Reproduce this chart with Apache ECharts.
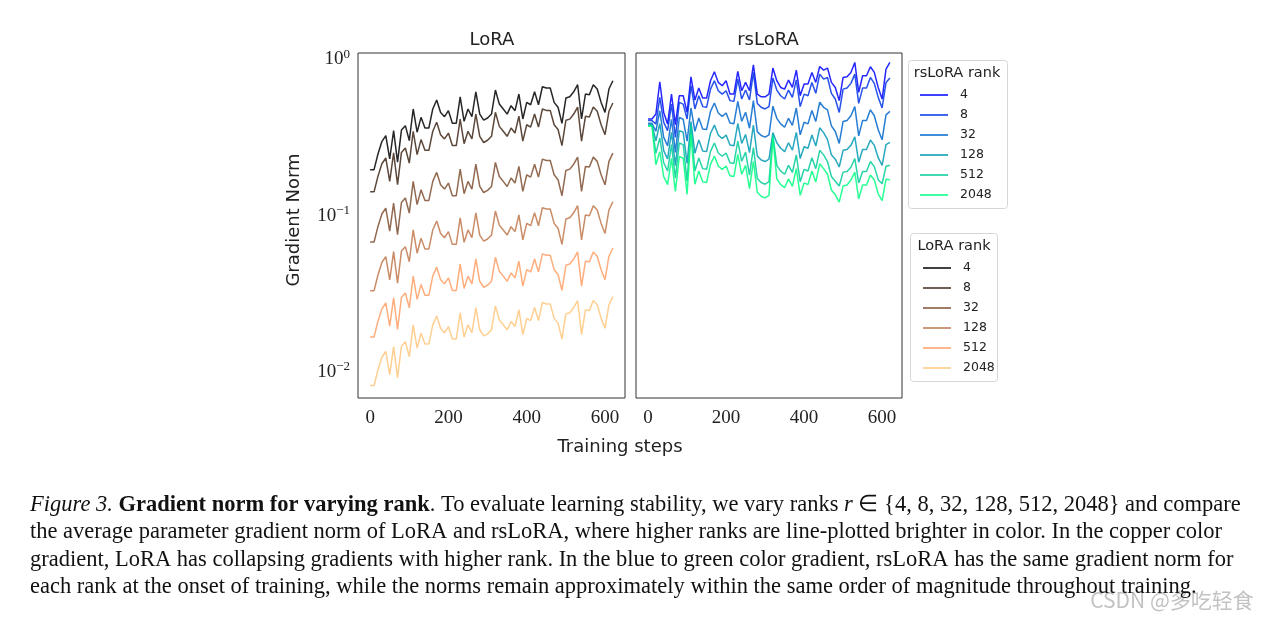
<!DOCTYPE html>
<html lang="en">
<head>
    <meta charset="utf-8">
    <title>Gradient norm for varying rank</title>
    <script src="https://cdn.jsdelivr.net/npm/echarts@6/dist/echarts.min.js"></script>
    <style>
        body { margin: 0; background: #fff; }
        #main { width: 1272px; height: 620px; }
    </style>
</head>
<body>
    <div id="main"></div>
    <script type="text/javascript">
    // training steps (one point every 10 steps)
    var steps = [0,10,20,30,40,50,60,70,80,90,100,110,120,130,140,150,160,170,180,190,200,210,220,230,240,250,260,270,280,290,300,
        310,320,330,340,350,360,370,380,390,400,410,420,430,440,450,460,470,480,490,500,510,520,530,540,550,560,570,580,590,600,610,620];
    var ranks = ['4', '8', '32', '128', '512', '2048'];

    // LoRA gradient norm
    var lora4 = [0.197,0.197,0.248,0.298,0.325,0.231,0.350,0.220,0.353,0.377,0.302,0.482,0.342,0.426,0.364,0.364,0.482,0.550,0.458,0.430,0.470,
        0.390,0.390,0.577,0.402,0.482,0.430,0.621,0.447,0.409,0.422,0.447,0.637,0.518,0.482,0.447,0.506,0.470,0.601,0.416,0.531,
        0.513,0.621,0.513,0.669,0.656,0.656,0.531,0.494,0.390,0.566,0.577,0.621,0.689,0.416,0.601,0.595,0.689,0.647,0.531,0.458,0.647,0.731];
    var lora8 = [0.142,0.142,0.179,0.215,0.234,0.166,0.252,0.158,0.254,0.271,0.217,0.347,0.246,0.307,0.262,0.262,0.347,0.396,0.330,0.310,0.338,
        0.281,0.281,0.415,0.289,0.347,0.310,0.447,0.322,0.294,0.304,0.322,0.459,0.373,0.347,0.322,0.364,0.338,0.433,0.300,0.382,
        0.369,0.447,0.369,0.482,0.472,0.472,0.382,0.356,0.281,0.408,0.415,0.447,0.496,0.300,0.433,0.428,0.496,0.466,0.382,0.330,0.466,0.526];
    var lora32 = [0.0678,0.0678,0.0853,0.1025,0.1118,0.0795,0.1204,0.0757,0.1214,0.1297,0.1039,0.1658,0.1176,0.1465,0.1252,0.1252,0.1658,0.1892,0.1576,0.1479,0.1617,
        0.1342,0.1342,0.1985,0.1383,0.1658,0.1479,0.2136,0.1538,0.1407,0.1452,0.1538,0.2191,0.1782,0.1658,0.1538,0.1741,0.1617,0.2067,0.1431,0.1827,
        0.1765,0.2136,0.1765,0.2301,0.2257,0.2257,0.1827,0.1699,0.1342,0.1947,0.1985,0.2136,0.2370,0.1431,0.2067,0.2047,0.2370,0.2226,0.1827,0.1576,0.2226,0.2515];
    var lora128 = [0.0331,0.0331,0.0417,0.0501,0.0546,0.0388,0.0588,0.0370,0.0593,0.0633,0.0507,0.0810,0.0575,0.0716,0.0612,0.0612,0.0810,0.0924,0.0769,0.0722,0.0790,
        0.0655,0.0655,0.0969,0.0675,0.0810,0.0722,0.1043,0.0751,0.0687,0.0709,0.0751,0.1070,0.0870,0.0810,0.0751,0.0850,0.0790,0.1010,0.0699,0.0892,
        0.0862,0.1043,0.0862,0.1124,0.1102,0.1102,0.0892,0.0830,0.0655,0.0951,0.0969,0.1043,0.1158,0.0699,0.1010,0.1000,0.1158,0.1087,0.0892,0.0769,0.1087,0.1228];
    var lora512 = [0.0167,0.0167,0.0211,0.0253,0.0276,0.0196,0.0298,0.0187,0.0300,0.0320,0.0257,0.0410,0.0291,0.0362,0.0309,0.0309,0.0410,0.0468,0.0389,0.0366,0.0400,
        0.0332,0.0332,0.0490,0.0342,0.0410,0.0366,0.0528,0.0380,0.0348,0.0359,0.0380,0.0541,0.0440,0.0410,0.0380,0.0430,0.0400,0.0511,0.0354,0.0451,
        0.0436,0.0528,0.0436,0.0569,0.0558,0.0558,0.0451,0.0420,0.0332,0.0481,0.0490,0.0528,0.0586,0.0354,0.0511,0.0506,0.0586,0.0550,0.0451,0.0389,0.0550,0.0621];
    var lora2048 = [0.00818,0.00818,0.0103,0.0124,0.0135,0.00959,0.0145,0.00913,0.0146,0.0156,0.0125,0.0200,0.0142,0.0177,0.0151,0.0151,0.0200,0.0228,0.0190,0.0178,0.0195,
        0.0162,0.0162,0.0239,0.0167,0.0200,0.0178,0.0258,0.0186,0.0170,0.0175,0.0186,0.0264,0.0215,0.0200,0.0186,0.0210,0.0195,0.0249,0.0173,0.0220,
        0.0213,0.0258,0.0213,0.0278,0.0272,0.0272,0.0220,0.0205,0.0162,0.0235,0.0239,0.0258,0.0286,0.0173,0.0249,0.0247,0.0286,0.0269,0.0220,0.0190,0.0269,0.0303];

    // rsLoRA gradient norm
    var rs4 = [0.416,0.416,0.447,0.720,0.458,0.386,0.600,0.383,0.586,0.586,0.458,0.775,0.550,0.656,0.566,0.566,0.731,0.834,0.713,0.679,0.731,
        0.600,0.600,0.838,0.631,0.713,0.631,0.925,0.600,0.577,0.577,0.600,0.881,0.731,0.662,0.646,0.738,0.662,0.855,0.586,0.696,
        0.696,0.826,0.713,0.902,0.855,0.881,0.713,0.662,0.545,0.767,0.775,0.826,0.957,0.615,0.787,0.787,0.898,0.826,0.662,0.558,0.867,0.957];
    var rs8 = [0.406,0.406,0.386,0.572,0.396,0.350,0.518,0.317,0.531,0.518,0.416,0.679,0.482,0.586,0.499,0.494,0.646,0.731,0.631,0.600,0.631,
        0.545,0.539,0.749,0.558,0.637,0.550,0.826,0.523,0.494,0.482,0.499,0.760,0.637,0.586,0.558,0.637,0.572,0.741,0.499,0.600,
        0.586,0.713,0.607,0.806,0.749,0.767,0.607,0.558,0.458,0.646,0.656,0.703,0.806,0.523,0.656,0.656,0.767,0.703,0.572,0.489,0.713,0.760];
    var rs32 = [0.390,0.390,0.347,0.469,0.317,0.280,0.414,0.254,0.425,0.414,0.300,0.489,0.347,0.422,0.359,0.356,0.465,0.526,0.454,0.432,0.454,
        0.392,0.388,0.539,0.402,0.459,0.363,0.545,0.345,0.326,0.318,0.329,0.502,0.420,0.387,0.368,0.420,0.378,0.489,0.329,0.396,
        0.387,0.471,0.401,0.532,0.494,0.476,0.376,0.346,0.290,0.401,0.407,0.436,0.500,0.324,0.407,0.407,0.476,0.436,0.355,0.306,0.442,0.465];
    var rs128 = [0.382,0.382,0.301,0.389,0.261,0.231,0.342,0.209,0.350,0.342,0.216,0.400,0.251,0.305,0.259,0.257,0.336,0.380,0.328,0.312,0.328,
        0.283,0.280,0.389,0.290,0.331,0.253,0.380,0.241,0.227,0.222,0.230,0.340,0.293,0.270,0.257,0.293,0.263,0.341,0.232,0.276,
        0.270,0.328,0.279,0.365,0.340,0.307,0.245,0.230,0.205,0.262,0.265,0.282,0.320,0.220,0.265,0.265,0.305,0.282,0.235,0.210,0.285,0.295];
    var rs512 = [0.378,0.378,0.251,0.315,0.218,0.193,0.285,0.174,0.292,0.285,0.166,0.380,0.193,0.234,0.200,0.198,0.258,0.292,0.252,0.240,0.252,
        0.218,0.216,0.300,0.223,0.255,0.182,0.273,0.173,0.163,0.159,0.165,0.330,0.210,0.193,0.184,0.210,0.189,0.245,0.165,0.198,
        0.193,0.235,0.200,0.262,0.245,0.222,0.178,0.166,0.155,0.190,0.192,0.204,0.232,0.162,0.192,0.192,0.222,0.206,0.170,0.160,0.207,0.210];
    var rs2048 = [0.374,0.374,0.212,0.257,0.178,0.158,0.233,0.143,0.239,0.233,0.137,0.330,0.159,0.193,0.165,0.163,0.213,0.241,0.208,0.198,0.208,
        0.180,0.178,0.247,0.184,0.210,0.149,0.223,0.141,0.133,0.130,0.135,0.317,0.172,0.158,0.151,0.172,0.154,0.200,0.135,0.162,
        0.158,0.193,0.164,0.215,0.200,0.184,0.146,0.136,0.122,0.155,0.157,0.169,0.190,0.128,0.157,0.157,0.182,0.169,0.138,0.125,0.171,0.170];

    var loraData = [lora4, lora8, lora32, lora128, lora512, lora2048];
    var rsData = [rs4, rs8, rs32, rs128, rs512, rs2048];
    // copper and winter colormaps
    var copper = ['#000000', '#402819', '#7f5033', '#bf784c', '#ff9f65', '#ffc77f'];
    var winter = ['#0000ff', '#0033e6', '#0066cc', '#0099b3', '#00cc99', '#00ff80'];

    var sans = 'DejaVu Sans';
    var serif = 'Liberation Serif';

    function pairs(vals) {
        return steps.map(function (s, i) { return [s, vals[i]]; });
    }

    var series = [];
    ranks.forEach(function (r, k) {
        series.push({
            name: 'rs ' + r, type: 'line', xAxisIndex: 1, yAxisIndex: 1,
            data: pairs(rsData[k]), symbol: 'none', color: winter[k],
            lineStyle: { width: 1.5, opacity: 0.85 }, animation: false
        });
    });
    ranks.forEach(function (r, k) {
        series.push({
            name: 'lora ' + r, type: 'line', xAxisIndex: 0, yAxisIndex: 0,
            data: pairs(loraData[k]), symbol: 'none', color: copper[k],
            lineStyle: { width: 1.5, opacity: 0.85 }, animation: false
        });
    });

    var supMap = { '0': '0', '-1': '\u22121', '-2': '\u22122' };
    function logLabel(v) {
        var e = Math.log10(v);
        if (Math.abs(e - Math.round(e)) > 1e-6) return '';
        return '{b|10}{s|' + supMap[String(Math.round(e))] + '}';
    }

    function xAxis(i) {
        return {
            gridIndex: i, type: 'value', min: -31, max: 651,
            splitLine: { show: false }, axisLine: { show: false }, axisTick: { show: false },
            axisLabel: { customValues: [0, 200, 400, 600], fontFamily: serif, fontSize: 19, color: '#222', margin: 11 }
        };
    }
    function yAxis(i) {
        return {
            gridIndex: i, type: 'log', logBase: 10, min: 0.0068, max: 1.1,
            splitLine: { show: false }, axisLine: { show: false }, axisTick: { show: false },
            axisLabel: {
                show: i === 0, showMinLabel: false, showMaxLabel: false, margin: 8,
                formatter: logLabel,
                rich: {
                    b: { fontFamily: serif, fontSize: 19, color: '#222' },
                    s: { fontFamily: serif, fontSize: 13, color: '#222', padding: [0, 0, 10, 0] }
                }
            }
        };
    }

    function legendBlock(names, left, top) {
        return {
            data: names, orient: 'vertical', left: left, top: top,
            icon: 'rect', itemWidth: 28, itemHeight: 1.5, itemGap: 6, selectedMode: false,
            formatter: function (n) { return n.split(' ')[1]; },
            textStyle: { fontFamily: sans, fontSize: 12.5, color: '#222', lineHeight: 14, padding: [0, 0, 0, 7] }
        };
    }

    var caption = [
        '{i|Figure 3.} {b|Gradient norm for varying rank}. To evaluate learning stability, we vary ranks {i|r} \u2208 {4, 8, 32, 128, 512, 2048} and compare',
        'the average parameter gradient norm of LoRA and rsLoRA, where higher ranks are line-plotted brighter in color. In the copper color',
        'gradient, LoRA has collapsing gradients with higher rank. In the blue to green color gradient, rsLoRA has the same gradient norm for',
        'each rank at the onset of training, while the norms remain approximately within the same order of magnitude throughout training.'
    ];

    function txt(x, y, text, size, family, extra) {
        var o = { type: 'text', x: x, y: y, silent: true,
            style: { text: text, fontSize: size, fontFamily: family, fill: '#222', align: 'center', verticalAlign: 'middle' } };
        if (extra) for (var k in extra) o.style[k] = extra[k];
        return o;
    }

    var graphics = [
        txt(492, 40, 'LoRA', 18, sans),
        txt(768, 40, 'rsLoRA', 18, sans),
        txt(620, 447, 'Training steps', 18, sans),
        { type: 'text', x: 294, y: 220, rotation: Math.PI / 2, silent: true,
          style: { text: 'Gradient Norm', fontSize: 18, fontFamily: sans, fill: '#222', align: 'center', verticalAlign: 'middle' } },
        { type: 'rect', silent: true, shape: { x: 908.5, y: 60.5, width: 99, height: 148, r: 3 },
          style: { fill: '#fff', stroke: '#d6d6d6', lineWidth: 1 }, z: -1 },
        { type: 'rect', silent: true, shape: { x: 910.5, y: 233.5, width: 87, height: 148, r: 3 },
          style: { fill: '#fff', stroke: '#d6d6d6', lineWidth: 1 }, z: -1 },
        txt(957, 73, 'rsLoRA rank', 14.5, sans),
        txt(954, 246, 'LoRA rank', 14.5, sans),
        txt(1172, 600, 'CSDN @多吃轻食', 21, 'Noto Sans CJK SC', { fill: 'rgba(120,120,120,0.45)' })
    ];
    caption.forEach(function (line, i) {
        graphics.push({
            type: 'text', x: 30, y: 505 + i * 27.5, silent: true,
            style: {
                text: line, fontSize: 22.5, fontFamily: serif, fill: '#111', align: 'left', verticalAlign: 'middle',
                rich: {
                    i: { fontStyle: 'italic', fontSize: 22.5, fontFamily: serif, fill: '#111' },
                    b: { fontWeight: 'bold', fontSize: 22.5, fontFamily: serif, fill: '#111' }
                }
            }
        });
    });

    var myChart = echarts.init(document.getElementById('main'));
    myChart.setOption({
        backgroundColor: '#ffffff',
        animation: false,
        grid: [
            { left: 358, top: 53, width: 267, height: 345, show: true, borderColor: '#333', borderWidth: 1, backgroundColor: 'transparent' },
            { left: 636, top: 53, width: 266, height: 345, show: true, borderColor: '#333', borderWidth: 1, backgroundColor: 'transparent' }
        ],
        xAxis: [xAxis(0), xAxis(1)],
        yAxis: [yAxis(0), yAxis(1)],
        legend: [
            legendBlock(ranks.map(function (r) { return 'rs ' + r; }), 915, 83),
            legendBlock(ranks.map(function (r) { return 'lora ' + r; }), 918, 256)
        ],
        graphic: graphics,
        series: series
    });
    </script>
</body>
</html>
